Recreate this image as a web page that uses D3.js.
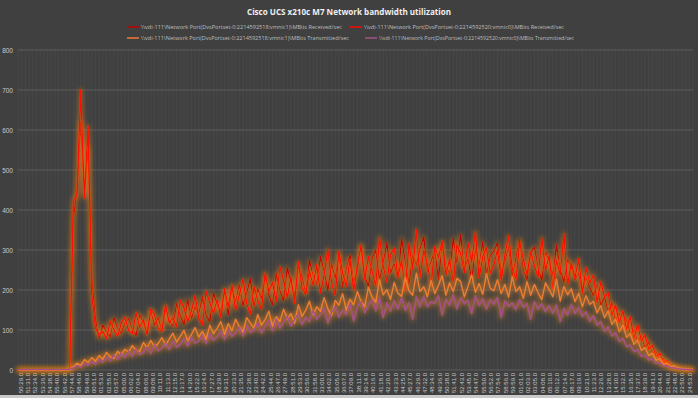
<!DOCTYPE html>
<html>
<head>
<meta charset="utf-8">
<script src="https://cdn.jsdelivr.net/npm/d3@7"></script>
<style>
  body { margin: 0; background: #404040; }
  svg { display: block; font-family: "Open Sans", "Liberation Sans", sans-serif; }
</style>
</head>
<body>
<svg id="chart" width="698" height="398"></svg>
<script>
// series names, in the order the chart draws them
var seriesNames = [
  '\\\\vdi-111\\Network Port(DvsPortset-0:2214592518:vmnic1)\\MBits Received/sec',
  '\\\\vdi-111\\Network Port(DvsPortset-0:2214592520:vmnic0)\\MBits Received/sec',
  '\\\\vdi-111\\Network Port(DvsPortset-0:2214592518:vmnic1)\\MBits Transmitted/sec',
  '\\\\vdi-111\\Network Port(DvsPortset-0:2214592520:vmnic0)\\MBits Transmitted/sec'
];
var seriesColors = ['#c00000', '#ff0a00', '#ed7d31', '#a4508a'];

var timeLabels = [
  '50:29.0','51:31.0','52:34.0','53:36.0','54:38.0','55:40.0','56:42.0','57:44.0','58:46.0','59:49.0',
  '00:51.0','01:53.0','02:55.0','03:57.0','05:00.0','06:02.0','07:04.0','08:06.0','09:08.0','10:11.0',
  '11:13.0','12:15.0','13:17.0','14:20.0','15:22.0','16:24.0','17:27.0','18:29.0','19:31.0','20:33.0',
  '21:35.0','22:38.0','23:40.0','24:42.0','25:44.0','26:47.0','27:49.0','28:51.0','29:53.0','30:56.0',
  '31:58.0','33:00.0','34:02.0','35:05.0','36:07.0','37:09.0','38:11.0','39:14.0','40:16.0','41:18.0',
  '42:20.0','43:23.0','44:25.0','45:27.0','46:29.0','47:32.0','48:34.0','49:36.0','50:38.0','51:41.0',
  '52:43.0','53:45.0','54:47.0','55:50.0','56:52.0','57:54.0','58:56.0','59:59.0','01:01.0','02:03.0',
  '03:05.0','04:08.0','05:10.0','06:12.0','07:14.0','08:17.0','09:19.0','10:21.0','11:23.0','12:26.0',
  '13:28.0','14:30.0','15:32.0','16:35.0','17:37.0','18:39.0','19:41.0','20:44.0','21:46.0','22:48.0',
  '23:50.0','24:53.0'
];

var yTicks = [0, 100, 200, 300, 400, 500, 600, 700, 800];

// MBits/sec, one value per sample
var rxVmnic1 = [
  0,0,0,0,0,0,0,0,0,0,
  0,0,0,0,0,380,450,620,440,560,
  230,126,79,112,95,83,131,104,92,119,
  128,101,86,138,117,94,148,112,131,99,
  154,122,109,166,137,113,176,128,158,141,
  183,136,121,192,164,147,199,138,207,171,
  214,161,193,228,159,204,178,236,188,163,
  241,199,173,256,218,185,261,233,192,274,
  236,214,283,247,199,266,229,291,208,254,
  287,221,252,313,236,208,279,301,224,268,
  318,243,266,229,328,271,214,289,262,304,
  333,246,271,298,227,316,259,242,329,268,
  338,251,279,223,303,262,321,238,284,297,
  318,244,271,309,232,281,327,251,226,293,
  308,257,224,296,271,236,313,252,219,276,
  257,226,243,196,231,207,186,214,161,183,
  146,168,122,143,104,128,88,101,71,86,
  56,71,41,46,26,29,12,10,6,3,
  2,1,0,0
];
var rxVmnic0 = [
  0,0,0,0,0,0,0,0,0,0,
  0,0,0,0,0,420,440,700,430,610,
  190,105,88,96,78,122,101,84,117,132,
  98,91,143,107,126,88,152,139,104,97,
  163,118,131,108,174,156,121,147,186,129,
  112,197,168,142,176,131,203,158,212,149,
  188,227,166,139,208,174,151,243,196,219,
  172,258,224,181,233,167,271,206,189,248,
  212,263,193,239,302,218,187,297,243,209,
  276,198,262,311,226,284,247,208,332,261,
  219,288,305,233,274,196,317,252,351,231,
  298,264,212,309,281,322,238,276,219,313,
  291,244,318,270,346,229,283,306,241,262,
  301,224,287,336,253,226,318,277,238,296,
  261,232,331,249,286,203,274,239,341,212,
  268,231,279,191,256,218,238,168,221,182,
  193,137,162,118,148,102,133,77,114,72,
  88,52,61,34,42,18,24,9,6,3,
  2,1,1,0
];
var txVmnic1 = [
  0,0,0,0,0,0,0,0,0,0,
  0,0,0,0,0,8,17,11,26,19,
  31,22,36,27,44,33,29,47,38,52,
  44,61,50,46,69,55,74,58,66,81,
  63,77,92,70,84,99,73,88,106,82,
  97,76,112,91,104,121,89,116,98,127,
  108,95,131,117,104,139,112,126,147,109,
  133,121,152,128,141,117,163,134,149,172,
  138,158,147,181,153,136,174,162,191,149,
  177,163,196,171,158,207,182,169,226,188,
  201,176,219,192,184,231,198,187,242,196,
  208,183,224,191,212,236,187,218,196,229,
  221,183,209,238,194,216,189,241,205,198,
  226,191,214,182,233,196,208,179,221,187,
  214,193,176,218,201,183,227,172,209,188,
  203,171,192,158,186,164,172,143,161,131,
  148,114,127,96,112,82,91,64,75,49,
  56,36,42,24,29,14,17,8,10,5,
  4,3,2,2
];
var txVmnic0 = [
  1,1,1,1,1,1,1,1,1,1,
  1,1,1,1,1,5,11,7,16,12,
  21,14,27,19,33,23,37,26,42,31,
  47,34,52,39,44,58,41,63,48,55,
  68,51,73,57,64,79,59,83,67,72,
  88,66,91,74,83,98,76,102,84,93,
  107,85,112,94,101,118,92,109,124,98,
  128,104,119,135,109,126,141,113,132,121,
  148,126,139,155,117,144,159,132,151,138,
  167,122,158,171,143,162,176,148,183,131,
  168,147,174,152,181,149,169,127,183,158,
  184,158,171,166,186,137,177,162,189,153,
  181,166,174,141,186,161,179,152,177,164,
  182,131,173,159,168,151,176,157,166,127,
  171,152,166,146,161,142,163,121,154,137,
  164,141,157,134,146,122,136,112,121,97,
  108,85,93,72,79,58,63,46,51,34,
  38,25,29,17,18,10,10,6,5,3,
  2,2,1,1
];

var seriesValues = [rxVmnic1, rxVmnic0, txVmnic1, txVmnic0];

(function() {
    // general setup
    var svg = d3.select('svg#chart'),
    width = 698,
    height = 398,
    margin = {top: 50, right: 5, bottom: 28, left: 18},
    n = rxVmnic0.length,
    x, xLab, y, line, defs, filter, merge, plot, legend;

    x = d3.scaleLinear().domain([0, n - 1]).range([margin.left, width - margin.right]);
    xLab = d3.scalePoint().domain(timeLabels).range([20, 689]);
    y = d3.scaleLinear().domain([0, 800]).range([height - margin.bottom, margin.top]);

    svg.append('rect').attr('width', width).attr('height', height).attr('fill', '#404040');
    svg.append('rect').attr('y', 395).attr('width', width).attr('height', 3).attr('fill', '#c9c9c9');

    // soft orange glow round every line
    defs = svg.append('defs');
    filter = defs.append('filter').attr('id', 'glow')
	.attr('filterUnits', 'userSpaceOnUse')
	.attr('x', 0).attr('y', 0).attr('width', width).attr('height', height);
    filter.append('feMorphology').attr('in', 'SourceAlpha').attr('operator', 'dilate')
	.attr('radius', 1.3).attr('result', 'thick');
    filter.append('feGaussianBlur').attr('in', 'thick').attr('stdDeviation', 2.8).attr('result', 'blur');
    filter.append('feFlood').attr('flood-color', '#ff8a1a').attr('flood-opacity', 0.45);
    filter.append('feComposite').attr('in2', 'blur').attr('operator', 'in').attr('result', 'halo');
    merge = filter.append('feMerge');
    merge.append('feMergeNode').attr('in', 'halo');
    merge.append('feMergeNode').attr('in', 'SourceGraphic');

    // gridlines
    svg.append('g').selectAll('line.vgrid')
	.data(d3.range(n))
	.join('line')
	.attr('x1', function(d) { return x(d); })
	.attr('x2', function(d) { return x(d); })
	.attr('y1', y(800)).attr('y2', y(0))
	.attr('stroke', '#4b4b4b').attr('stroke-width', 0.6);
    svg.append('g').selectAll('line.hgrid')
	.data(yTicks)
	.join('line')
	.attr('x1', margin.left).attr('x2', width - margin.right)
	.attr('y1', function(d) { return y(d); })
	.attr('y2', function(d) { return y(d); })
	.attr('stroke', '#5c5c5c').attr('stroke-width', 1);

    // axes
    svg.append('g')
	.attr('transform', 'translate(' + margin.left + ',0)')
	.call(d3.axisLeft(y).tickValues(yTicks).tickSize(0).tickPadding(5))
	.call(function(g) { g.select('.domain').remove(); })
	.selectAll('text')
	.attr('fill', '#c8c8c8')
	.style('font-size', '6.5px');

    svg.append('g')
	.attr('transform', 'translate(0,' + (y(0) + 1) + ')')
	.call(d3.axisBottom(xLab).tickSize(0))
	.call(function(g) { g.select('.domain').remove(); })
	.selectAll('text')
	.attr('transform', 'rotate(-90)')
	.attr('text-anchor', 'end')
	.attr('x', -2).attr('y', 0).attr('dy', '0.35em')
	.attr('fill', '#c8c8c8')
	.style('font-size', '6px');

    // series lines
    line = d3.line()
	.x(function(d, i) { return x(i); })
	.y(function(d) { return y(d); });
    plot = svg.append('g');
    seriesValues.forEach(function(vals, k) {
	plot.append('path')
	    .datum(vals)
	    .attr('d', line)
	    .attr('fill', 'none')
	    .attr('stroke', seriesColors[k])
	    .attr('stroke-width', 1.4)
	    .attr('stroke-linejoin', 'round')
	    .attr('filter', 'url(#glow)');
    });

    // title
    svg.append('text')
	.attr('x', 349).attr('y', 14.5)
	.attr('text-anchor', 'middle')
	.attr('fill', '#f0f0f0')
	.attr('font-weight', 'bold')
	.attr('textLength', 204)
	.attr('lengthAdjust', 'spacingAndGlyphs')
	.style('font-size', '9.5px')
	.text('Cisco UCS x210c M7 Network bandwidth utilization');

    // legend, two rows of two
    var legendPos = [
	{x: 127, y: 27, w: 201},
	{x: 350, y: 27, w: 200},
	{x: 127, y: 38, w: 208},
	{x: 365, y: 38, w: 195}
    ];
    legend = svg.append('g').selectAll('g')
	.data(seriesNames)
	.join('g')
	.attr('transform', function(d, i) { return 'translate(' + legendPos[i].x + ',' + legendPos[i].y + ')'; });
    legend.append('line')
	.attr('x1', 0).attr('x2', 12)
	.attr('stroke', function(d, i) { return seriesColors[i]; })
	.attr('stroke-width', 1.5);
    legend.append('text')
	.attr('x', 14).attr('dy', '0.35em')
	.attr('fill', '#bfbfbf')
	.attr('textLength', function(d, i) { return legendPos[i].w; })
	.attr('lengthAdjust', 'spacingAndGlyphs')
	.style('font-size', '5.8px')
	.text(function(d) { return d; });
}).call(this);
</script>
</body>
</html>
